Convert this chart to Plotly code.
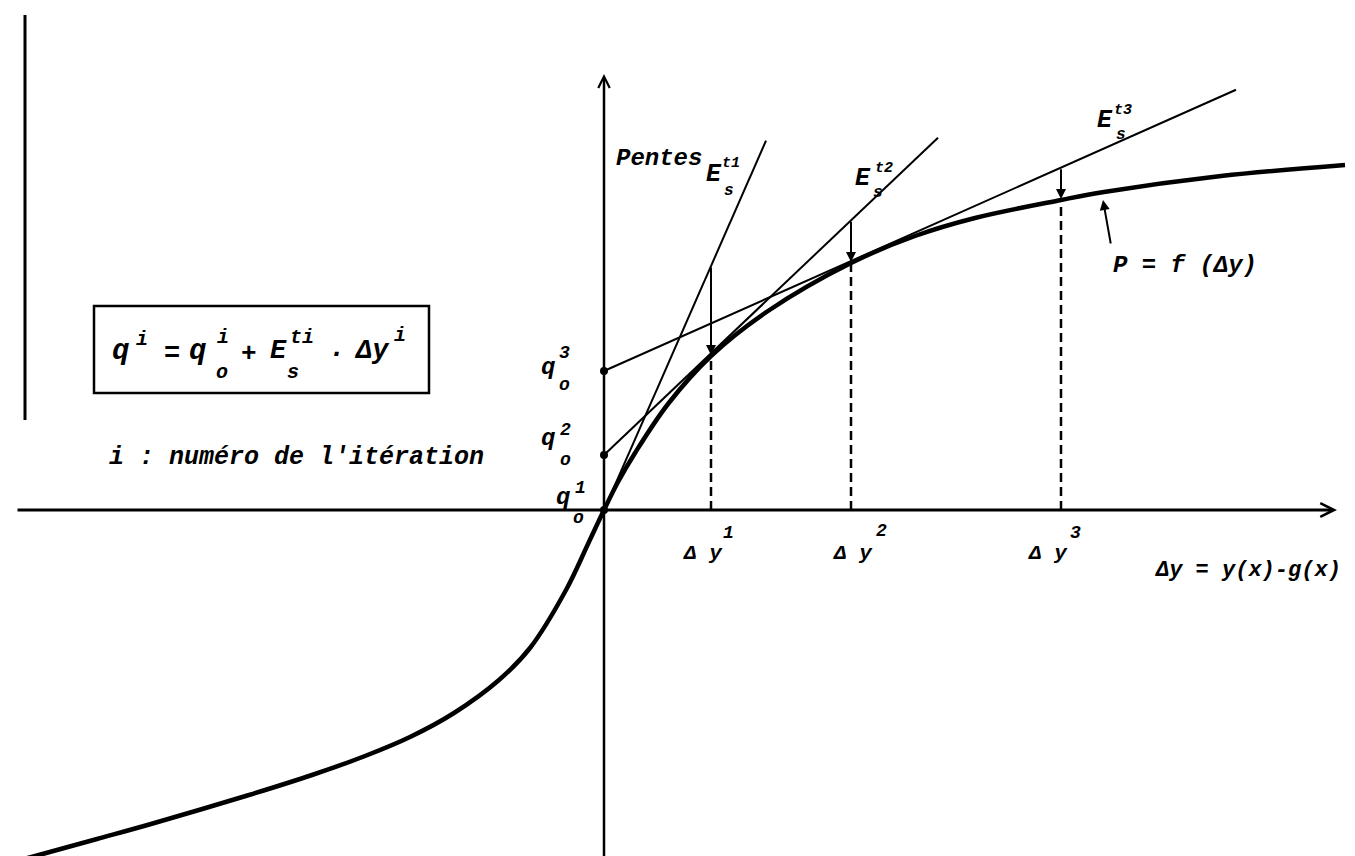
import plotly.graph_objects as go

W, H = 1355, 856
X_RANGE = [-5.96, 7.59]
Y_RANGE = [-3.54, 5.02]

# behaviour curve P = f(Δy)
curve_dy = [-5.87, -5.07, -4.53, -3.55, -2.92, -2.39, -1.94, -1.50, -1.05, -0.74,
            -0.38, -0.16, 0.0, 0.14, 0.31, 0.64, 1.07, 1.64, 2.47, 3.11, 3.71,
            4.57, 5.00, 6.17, 7.41]
curve_p = [-3.51, -3.29, -3.14, -2.85, -2.65, -2.46, -2.27, -2.03, -1.70, -1.38,
           -0.80, -0.34, 0.0, 0.28, 0.57, 1.06, 1.54, 1.99, 2.47, 2.74, 2.92,
           3.10, 3.18, 3.34, 3.45]

# three iterations: intercepts q0, tangent slopes E_s^ti, solution Δy^i
q0 = [0.0, 0.55, 1.39]
slopes = [2.28, 0.95, 0.445]
line_start = [-0.07, 0.0, 0.0]
line_end = [1.62, 3.34, 6.32]
dy_iter = [1.07, 2.47, 4.57]
p_iter = [1.54, 2.47, 3.10]

# axes / frame extents
x_axis = [-5.88, 7.33]
y_axis = [-3.56, 4.36]
frame_x = -5.79
frame_y = [4.95, 0.90]
box_x = [-5.10, -1.75]
box_y = [1.17, 2.04]
pf_arrow = [(5.07, 2.65), (4.99, 3.10)]

INK = "#000000"
FONT = "Liberation Mono"

fig = go.Figure()

fig.add_trace(go.Scatter(
    x=[frame_x, frame_x], y=frame_y, mode="lines",
    line=dict(color=INK, width=3),
))

# tangent lines
for q, e, a, b in zip(q0, slopes, line_start, line_end):
    fig.add_trace(go.Scatter(
        x=[a, b], y=[q + e * a, q + e * b], mode="lines",
        line=dict(color=INK, width=2),
    ))

# dashed projections onto the Δy axis
for d, p in zip(dy_iter, p_iter):
    fig.add_trace(go.Scatter(
        x=[d, d], y=[0, p], mode="lines",
        line=dict(color=INK, width=2.5, dash="9px,5px"),
    ))

fig.add_trace(go.Scatter(
    x=curve_dy, y=curve_p, mode="lines",
    line=dict(color=INK, width=4.5, shape="spline", smoothing=1.0),
))

fig.add_trace(go.Scatter(
    x=[0, 0, 0], y=q0, mode="markers",
    marker=dict(color=INK, size=8),
))

annotations = []

# axes with open arrow heads
annotations.append(dict(
    x=x_axis[1], y=0, ax=x_axis[0], ay=0, xref="x", yref="y", axref="x", ayref="y",
    showarrow=True, arrowhead=5, arrowsize=0.9, arrowwidth=3, arrowcolor=INK, text="",
))
annotations.append(dict(
    x=0, y=y_axis[1], ax=0, ay=y_axis[0], xref="x", yref="y", axref="x", ayref="y",
    showarrow=True, arrowhead=5, arrowsize=0.9, arrowwidth=2.5, arrowcolor=INK, text="",
))

# correction arrows: from the tangent line down to the curve
for q, e, d, p in zip(q0, slopes, dy_iter, p_iter):
    annotations.append(dict(
        x=d, y=p, ax=d, ay=q + e * d, xref="x", yref="y", axref="x", ayref="y",
        showarrow=True, arrowhead=2, arrowsize=1.0, arrowwidth=2, arrowcolor=INK,
        text="", standoff=1,
    ))

annotations.append(dict(
    x=pf_arrow[1][0], y=pf_arrow[1][1], ax=pf_arrow[0][0], ay=pf_arrow[0][1],
    xref="x", yref="y", axref="x", ayref="y",
    showarrow=True, arrowhead=2, arrowsize=1.0, arrowwidth=2, arrowcolor=INK, text="",
))


def label(text, px, py, size):
    annotations.append(dict(
        text=text, x=px / W, y=1 - py / H, xref="paper", yref="paper",
        showarrow=False, xanchor="center", yanchor="middle",
        font=dict(family=FONT, size=size, color=INK, style="italic", weight="bold"),
    ))


# boxed formula  q^i = q_o^i + E_s^ti . Δy^i
label("q", 112, 343, 29)
label("i", 134, 331, 20)
label("=", 164, 346, 27)
label("q", 189, 343, 29)
label("i", 215, 329, 20)
label("o", 214, 364, 20)
label("+", 241, 346, 26)
label("E", 270, 343, 27)
label("ti", 294, 329, 20)
label("s", 285, 365, 20)
label("·", 328, 346, 28)
label("Δy", 364, 343, 27)
label("i", 392, 327, 20)

label("i : numéro de l'itération", 288, 449, 25)

# intercept labels
label("q", 540, 360, 24)
label("3", 556, 345, 18)
label("o", 556, 377, 18)
label("q", 540, 430, 24)
label("2", 557, 422, 18)
label("o", 557, 452, 18)
label("q", 555, 489, 24)
label("1", 572, 480, 18)
label("o", 570, 510, 18)

# slopes
label("Pentes", 651, 150, 24)
label("E", 706, 166, 25)
label("t1", 723, 156, 15)
label("s", 721, 183, 16)
label("E", 855, 170, 25)
label("t2", 876, 160, 15)
label("s", 870, 185, 16)
label("E", 1097, 112, 25)
label("t3", 1115, 103, 15)
label("s", 1113, 127, 16)

label("P = f (Δy)", 1177, 257, 24)

# Δy^i ticks
label("Δ y", 695, 545, 21)
label("1", 720, 525, 18)
label("Δ y", 845, 545, 21)
label("2", 873, 523, 18)
label("Δ y", 1040, 545, 21)
label("3", 1067, 525, 18)

label("Δy = y(x)-g(x)", 1240, 562, 22)

fig.update_layout(
    width=W, height=H, autosize=False,
    margin=dict(l=0, r=0, t=0, b=0),
    paper_bgcolor="white", plot_bgcolor="white",
    showlegend=False,
    xaxis=dict(range=X_RANGE, visible=False, fixedrange=True),
    yaxis=dict(range=Y_RANGE, visible=False, fixedrange=True),
    shapes=[dict(
        type="rect", xref="x", yref="y",
        x0=box_x[0], x1=box_x[1], y0=box_y[0], y1=box_y[1],
        line=dict(color=INK, width=2.5),
    )],
    annotations=annotations,
)

fig.write_html("out.html")
